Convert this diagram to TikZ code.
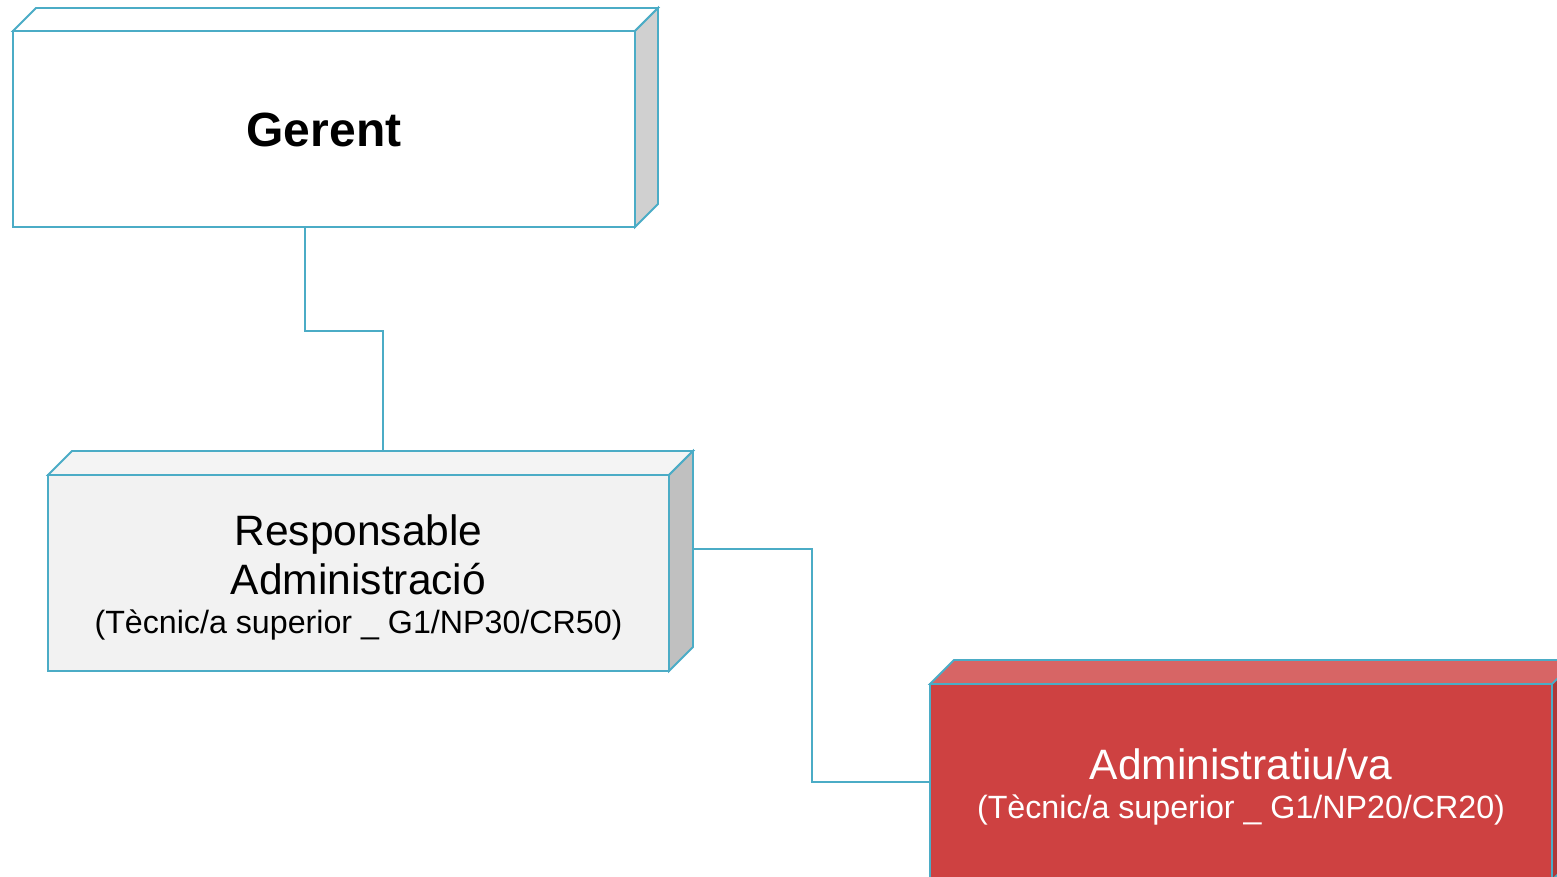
\documentclass[tikz,border=0pt]{standalone}
\usepackage{fontspec}
\setmainfont{Liberation Sans}
\usetikzlibrary{calc}
\definecolor{edgec}{HTML}{4BACC6}
\definecolor{sidegrey}{HTML}{D0D0D0}
\definecolor{respfront}{HTML}{F2F2F2}
\definecolor{respside}{HTML}{C0C0C0}
\definecolor{respup}{HTML}{F4F4F4}
\definecolor{redfront}{HTML}{CE4141}
\definecolor{redup}{HTML}{D76565}
\tikzset{
  frontbox/.style={draw=edgec, line width=1.8pt, rectangle, inner sep=0pt, outer sep=0pt},
  facebox/.style={draw=edgec, line width=1.8pt, line join=miter},
  conn/.style={draw=edgec, line width=1.8pt},
  bigtxt/.style={font=\fontsize{42.5}{49}\selectfont, anchor=base, inner sep=0pt},
  smalltxt/.style={font=\fontsize{32.2}{37}\selectfont, anchor=base, inner sep=0pt},
}
\begin{document}
\begin{tikzpicture}[x=1pt,y=-1pt]
\useasboundingbox (0,0) rectangle (1557,877);
\clip (0,0) rectangle (1557,877);
\fill[white] (0,0) rectangle (1557,877);

% front faces
\node[frontbox, fill=white, minimum width=622pt, minimum height=196pt] (g) at (324,129) {};
\node[frontbox, fill=respfront, minimum width=621pt, minimum height=196pt] (r) at (358.5,573) {};
\node[frontbox, fill=redfront, minimum width=622pt, minimum height=196pt] (a) at (1241,782) {};

% connectors
\draw[conn] ($(g.south)+(-19,0)$) -- ++(0,104) -| ($(r.north)+(24.5,-24)$);
\draw[conn] ($(r.east)+(24,-24)$) -- ++(119,0) |- (a.west);

% Gerent 3D faces
\path[facebox, fill=white] (g.north west) -- ++(23,-23) -- ($(g.north east)+(23,-23)$) -- (g.north east) -- cycle;
\path[facebox, fill=sidegrey] (g.north east) -- ++(23,-23) -- ($(g.south east)+(23,-23)$) -- (g.south east) -- cycle;
% Responsable 3D faces
\path[facebox, fill=respup] (r.north west) -- ++(24,-24) -- ($(r.north east)+(24,-24)$) -- (r.north east) -- cycle;
\path[facebox, fill=respside] (r.north east) -- ++(24,-24) -- ($(r.south east)+(24,-24)$) -- (r.south east) -- cycle;
% Administratiu 3D faces
\path[facebox, fill=redup] (a.north west) -- ++(24,-24) -- ($(a.north east)+(24,-24)$) -- (a.north east) -- cycle;
\path[facebox, fill=redfront!85!black] (a.north east) -- ++(24,-24) -- ($(a.south east)+(24,-24)$) -- (a.south east) -- cycle;
% redraw fronts' borders on top
\draw[edgec, line width=1.8pt] (g.north west) rectangle (g.south east);
\draw[edgec, line width=1.8pt] (r.north west) rectangle (r.south east);
\draw[edgec, line width=1.8pt] (a.north west) rectangle (a.south east);

% texts
\node[font=\fontsize{48}{56}\selectfont\bfseries, anchor=base, inner sep=0pt] (gt) at (324,147) {Gerent};
\node[bigtxt] (rt1) at (358.5,545.5) {Responsable};
\node[bigtxt] (rt2) at (358.5,594.5) {Administració};
\node[smalltxt] (rt3) at (358.5,633.5) {(Tècnic/a superior \_ G1/NP30/CR50)};
\node[bigtxt, text=white] (at1) at (1241,779) {Administratiu/va};
\node[smalltxt, text=white] (at2) at (1241,818) {(Tècnic/a superior \_ G1/NP20/CR20)};
\end{tikzpicture}
\end{document}
